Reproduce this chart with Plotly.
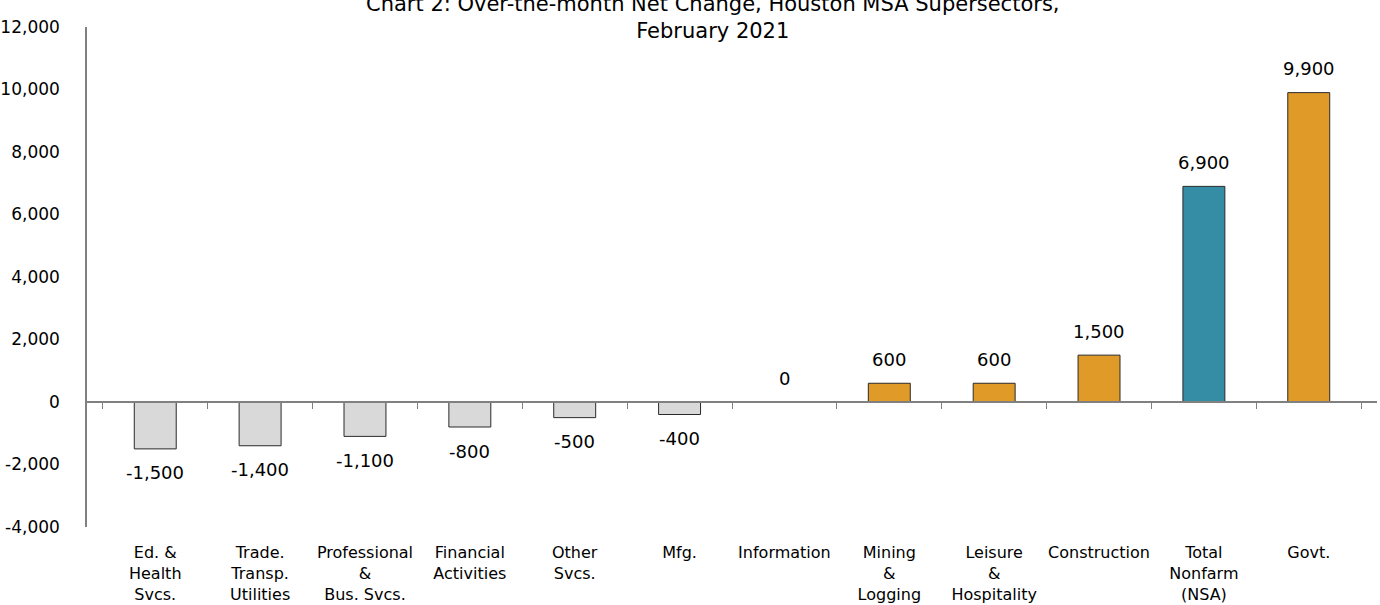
import plotly.graph_objects as go

categories = ["Ed. &<br>Health<br>Svcs.", "Trade.<br>Transp.<br>Utilities", "Professional<br>&<br>Bus. Svcs.",
              "Financial<br>Activities", "Other<br>Svcs.", "Mfg.", "Information", "Mining<br>&<br>Logging",
              "Leisure<br>&<br>Hospitality", "Construction", "Total<br>Nonfarm<br>(NSA)", "Govt."]
values = [-1500, -1400, -1100, -800, -500, -400, 0, 600, 600, 1500, 6900, 9900]
kinds = ["neg", "neg", "neg", "neg", "neg", "neg", "zero", "pos", "pos", "pos", "total", "pos"]
color_map = {"neg": "#D9D9D9", "zero": "#D9D9D9", "pos": "#E09A28", "total": "#358CA5"}
y_ticks = [-4000, -2000, 0, 2000, 4000, 6000, 8000, 10000, 12000]

FONT = "DejaVu Sans"
colors = [color_map[k] for k in kinds]

fig = go.Figure()
fig.add_trace(go.Bar(x=categories, y=values, marker=dict(color=colors, line=dict(color="#2a2a2a", width=1)),
                     width=0.4, hoverinfo="skip"))
# invisible trace to drive the zero-line axis
fig.add_trace(go.Scatter(x=categories, y=[0]*len(categories), xaxis="x2", mode="markers",
                         marker=dict(opacity=0), hoverinfo="skip", showlegend=False))

for c, v in zip(categories, values):
    fig.add_annotation(x=c, y=v, text=f"{v:,}", showarrow=False, xref="x", yref="y",
                       yshift=24 if v >= 0 else -24, font=dict(family=FONT, size=18, color="#000"))

fig.add_annotation(text="Chart 2: Over-the-month Net Change, Houston MSA Supersectors,<br>February 2021",
                   xref="paper", yref="paper", x=0.485, y=1.019, xanchor="center", yanchor="middle",
                   showarrow=False, font=dict(family=FONT, size=21, color="#000"))

fig.update_layout(
    width=1380, height=605, plot_bgcolor="white", paper_bgcolor="white",
    margin=dict(l=87, r=3, t=27, b=78), showlegend=False, bargap=0.6,
    font=dict(family=FONT, size=16, color="#000"),
    xaxis=dict(showline=False, ticks="", showgrid=False, tickfont=dict(size=16), ticklabelstandoff=14,
               automargin=False),
    xaxis2=dict(overlaying="x", anchor="free", position=0.25, matches="x", showline=True,
                linecolor="#808080", linewidth=1.5, ticks="outside", ticklen=6, tickcolor="#808080",
                tickson="boundaries", showticklabels=False, showgrid=False, automargin=False),
    yaxis=dict(range=[-4000, 12000], tickvals=y_ticks, ticktext=[f"{t:,}" for t in y_ticks],
               showgrid=False, zeroline=False, showline=True, linecolor="#808080", linewidth=1.5,
               ticks="", tickfont=dict(size=17), ticklabelstandoff=22, automargin=False),
)
fig.write_html("out.html", config={"displayModeBar": False},
               post_script="document.body.style.margin='0';")
